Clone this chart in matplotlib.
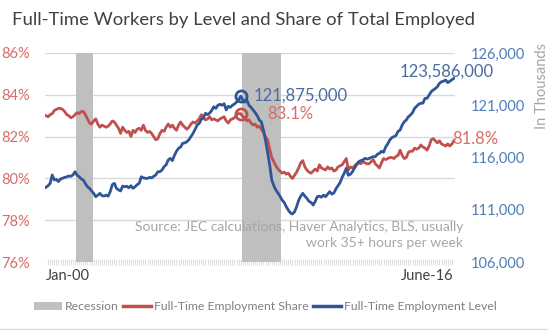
import numpy as np
import pandas as pd
import matplotlib.pyplot as plt
from matplotlib.lines import Line2D
from matplotlib.patches import Patch

plt.rcParams['font.family'] = ['Lato', 'DejaVu Sans']

# monthly, Jan 2000 .. June 2016
months = pd.period_range('2000-01', '2016-06', freq='M')

# full-time share of total employed (%)
share = [
    83.00, 82.95, 83.05, 83.10, 83.25, 83.30, 83.35, 83.35, 83.30, 83.20, 83.05, 83.00,  # 2000
    82.90, 82.95, 83.05, 83.15, 83.10, 83.20, 83.20, 83.05, 82.85, 82.65, 82.60, 82.75,  # 2001
    82.85, 82.60, 82.45, 82.55, 82.50, 82.45, 82.50, 82.60, 82.75, 82.70, 82.55, 82.40,  # 2002
    82.15, 82.45, 82.30, 82.20, 82.25, 82.00, 82.30, 82.20, 82.35, 82.40, 82.30, 82.55,  # 2003
    82.30, 82.20, 82.25, 82.15, 82.00, 81.85, 81.90, 82.15, 82.30, 82.25, 82.45, 82.60,  # 2004
    82.45, 82.55, 82.40, 82.30, 82.55, 82.70, 82.55, 82.45, 82.35, 82.45, 82.60, 82.70,  # 2005
    82.65, 82.75, 82.85, 83.05, 82.90, 82.80, 82.85, 82.95, 82.80, 82.85, 82.80, 82.75,  # 2006
    82.85, 82.90, 82.95, 82.75, 82.65, 82.80, 82.85, 82.90, 83.05, 83.10, 83.10, 82.95,  # 2007
    82.90, 82.75, 82.80, 82.65, 82.55, 82.60, 82.45, 82.50, 82.35, 82.20, 82.00, 81.85,  # 2008
    81.40, 81.00, 80.80, 80.60, 80.45, 80.35, 80.25, 80.30, 80.20, 80.25, 80.10, 80.00,  # 2009
    80.15, 80.30, 80.50, 80.75, 80.85, 80.55, 80.40, 80.30, 80.25, 80.35, 80.45, 80.35,  # 2010
    80.65, 80.50, 80.45, 80.40, 80.55, 80.45, 80.50, 80.35, 80.40, 80.55, 80.60, 80.65,  # 2011
    80.80, 80.95, 80.40, 80.55, 80.50, 80.60, 80.70, 80.75, 80.70, 80.80, 80.75, 80.70,  # 2012
    80.70, 80.80, 80.90, 80.70, 80.60, 80.50, 80.75, 80.95, 80.90, 80.95, 81.00, 81.00,  # 2013
    80.95, 81.05, 81.10, 81.35, 81.10, 80.95, 81.00, 81.25, 81.30, 81.30, 81.45, 81.40,  # 2014
    81.45, 81.60, 81.50, 81.45, 81.35, 81.55, 81.85, 81.90, 81.80, 81.70, 81.80, 81.65,  # 2015
    81.60, 81.55, 81.65, 81.55, 81.65, 81.80,                                            # 2016
]

# full-time employment level (thousands)
level = [
    113150, 113300, 113530, 114330, 113850, 113900, 113700, 113950, 114010, 114100, 114150, 114230,  # 2000
    114200, 114330, 114640, 114300, 114160, 113950, 113850, 113500, 113200, 113050, 112800, 112570,  # 2001
    112250, 112400, 112570, 112350, 112310, 112400, 112300, 112730, 113400, 113530, 113050, 112900,  # 2002
    112800, 113270, 113200, 113250, 113100, 113300, 113050, 113200, 113400, 113530, 114160, 114050,  # 2003
    114010, 114000, 114100, 114050, 114200, 114330, 114640, 114640, 114800, 115120, 115300, 115760,  # 2004
    115920, 115700, 116200, 116600, 116880, 117000, 117360, 117400, 117510, 117700, 118000, 118310,  # 2005
    118700, 119100, 119270, 119660, 119800, 120230, 120100, 120250, 120500, 120860, 120700, 121000,  # 2006
    121090, 121000, 121150, 120550, 120900, 120800, 121000, 121120, 121300, 121500, 121875, 121500,  # 2007
    121300, 121500, 121000, 120800, 120550, 120300, 120000, 119590, 119400, 118630, 117600, 116500,  # 2008
    115300, 113850, 113300, 112890, 112600, 112300, 111930, 111700, 111300, 110970, 110700, 110590,  # 2009
    110800, 111290, 111900, 112300, 112570, 112300, 112090, 111800, 111700, 111450, 111800, 112250,  # 2010
    112300, 112200, 112400, 112250, 112500, 112730, 112500, 112600, 113000, 113300, 113600, 114100,  # 2011
    114490, 114970, 114300, 114400, 114640, 115000, 115300, 115600, 115700, 115760, 115920, 115850,  # 2012
    115900, 116000, 116080, 116080, 116300, 116400, 116600, 116500, 117000, 117300, 117670, 117900,  # 2013
    118000, 118100, 118500, 118630, 119110, 119420, 119600, 119900, 120070, 120300, 120710, 120900,  # 2014
    121100, 121190, 121200, 121660, 121660, 121980, 122300, 122460, 122600, 122780, 123100, 123250,  # 2015
    123300, 123420, 123160, 123300, 123450, 123586,                                                  # 2016
]

recessions = [('2001-04', '2001-11'), ('2007-12', '2009-06')]
peak_month = '2007-11'
tick_labels = ['Jan-00', 'June-16']

red = '#C0504D'
blue = '#2F5597'
red_txt = '#DA6B68'
blue_txt = '#4F7DB8'

x = np.arange(len(months))

fig = plt.figure(figsize=(5.48, 3.30), dpi=100)
ax1 = fig.add_axes([45/548, 1-262/330, 410/548, 209/330])
ax2 = ax1.twinx()

for a, b in recessions:
    i0 = months.get_loc(pd.Period(a, 'M'))
    i1 = months.get_loc(pd.Period(b, 'M'))
    ax1.axvspan(i0 - 0.5, i1 + 0.5, color='#BFBFBF', lw=0, zorder=1)

ax1.plot(x, share, color=red, lw=2.0, zorder=3, solid_joinstyle='round')
ax2.plot(x, level, color=blue, lw=2.0, zorder=3, solid_joinstyle='round')

ax1.set_xlim(-0.5, len(x) - 0.5)
ax1.set_ylim(76, 86)
ax2.set_ylim(106000, 126000)
ax1.set_yticks(np.arange(76, 87, 2))
ax1.set_yticklabels([f'{v}%' for v in range(76, 87, 2)])
ax2.set_yticks(np.arange(106000, 126001, 5000))
ax2.set_yticklabels([f'{v:,}' for v in range(106000, 126001, 5000)])
ax1.grid(axis='y', color='#D9D9D9', lw=1)
ax1.set_axisbelow(True)

for a in (ax1, ax2):
    for s in a.spines.values():
        s.set_visible(False)
ax1.tick_params(axis='y', length=0, pad=11, labelsize=10.5, labelcolor=red_txt)
ax2.tick_params(axis='y', length=0, pad=11, labelsize=10.5, labelcolor=blue_txt)

ax1.set_xticks([0, len(x) - 1])
ax1.set_xticklabels(tick_labels)
ax1.get_xticklabels()[0].set_ha('left')
ax1.get_xticklabels()[1].set_ha('right')
ax1.set_xticks(x, minor=True)
ax1.tick_params(axis='x', which='major', length=0, pad=5, labelsize=10.5, labelcolor='#404040')
ax1.tick_params(axis='x', which='minor', length=4, direction='inout', color='#D9D9D9', width=0.6)

ax2.set_ylabel('In Thousands', color='#A6A6A6', fontsize=10.5)
ax2.yaxis.set_label_coords(1.195, 0.84)

# pre-recession peak and latest annotations
pk = months.get_loc(pd.Period(peak_month, 'M'))
ax2.plot(pk, level[pk], 'o', ms=8, mfc='none', mec=blue, mew=2, zorder=4)
ax1.plot(pk, share[pk], 'o', ms=8, mfc='none', mec=red, mew=2, zorder=4)
ax2.annotate(f'{level[pk]*1000:,}', (pk, level[pk]), xytext=(9, 0), textcoords='offset points',
             ha='left', va='center', fontsize=12, color='#4A6CA3')
ax1.annotate(f'{share[pk]:.1f}%', (pk, share[pk]), xytext=(19, 0), textcoords='offset points',
             ha='left', va='center', fontsize=12, color=red_txt)
ax2.annotate(f'{level[-1]*1000:,}', (x[-1], level[-1]), xytext=(-5, 4.5), textcoords='offset points',
             ha='center', va='center', fontsize=12, color='#4A6CA3')
ax1.annotate(f'{share[-1]:.1f}%', (x[-1], share[-1]), xytext=(-1, 1.5), textcoords='offset points',
             ha='left', va='center', fontsize=12, color=red_txt)

ax1.text(1.02, 0.13, 'Source: JEC calculations, Haver Analytics, BLS, usually\nwork 35+ hours per week',
         transform=ax1.transAxes, ha='right', va='center', fontsize=10, color='#A6A6A6',
         linespacing=1.45, zorder=5)

fig.text(12/548, 1-20/330, 'Full-Time Workers by Level and Share of Total Employed',
         ha='left', va='center', fontsize=13.3, color='#404040')

handles = [Patch(facecolor='#BFBFBF', edgecolor='none'),
           Line2D([], [], color=red, lw=2.5),
           Line2D([], [], color=blue, lw=2.5)]
fig.legend(handles, ['Recession', 'Full-Time Employment Share', 'Full-Time Employment Level'],
           loc='center', bbox_to_anchor=(0.484, 1-307/330), ncol=3, frameon=False,
           fontsize=8.8, labelcolor='#808080', handlelength=2.3, handleheight=0.6,
           handletextpad=0.2, columnspacing=0.4)

fig.add_artist(Line2D([0, 1], [1.5/330, 1.5/330], color='#D9D9D9', lw=1))

plt.savefig('out.png', dpi=100)
